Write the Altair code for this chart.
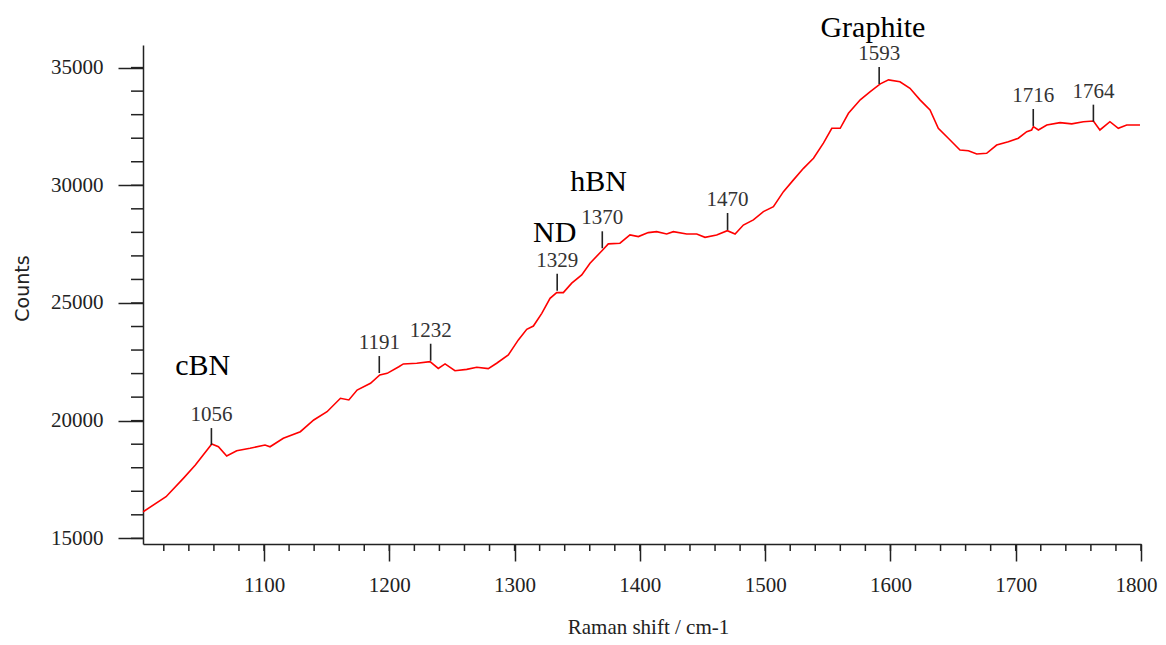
import altair as alt
import pandas as pd

# ---- spectrum ----
shift = [1003.5, 1021.8, 1035.6, 1045.2, 1058.3, 1063.6, 1070.2, 1078.2, 1088.8, 1100.8,
         1104.8, 1115.4, 1129.0, 1139.7, 1150.3, 1161.0, 1167.7, 1174.3, 1185.0, 1192.4,
         1198.3, 1207.6, 1211.2, 1221.9, 1232.5, 1239.1, 1244.5, 1252.4, 1261.8, 1269.8,
         1279.0, 1285.7, 1295.0, 1303.0, 1309.7, 1315.0, 1321.7, 1328.3, 1333.6, 1338.9,
         1345.6, 1353.6, 1360.2, 1370.3, 1374.8, 1384.1, 1392.1, 1398.8, 1406.7, 1413.4,
         1421.4, 1426.7, 1437.4, 1445.4, 1452.0, 1461.3, 1469.8, 1476.0, 1482.6, 1490.6,
         1498.6, 1506.6, 1514.6, 1522.6, 1530.6, 1538.6, 1546.5, 1553.2, 1559.9, 1566.5,
         1575.9, 1583.9, 1591.9, 1598.5, 1607.6, 1615.6, 1623.6, 1631.6, 1638.2, 1646.2,
         1655.5, 1662.2, 1668.9, 1676.8, 1684.8, 1694.1, 1702.1, 1708.8, 1712.7, 1714.1,
         1718.1, 1724.8, 1735.4, 1744.7, 1754.0, 1762.0, 1767.2, 1775.2, 1781.9, 1788.6,
         1799.2]
counts = [16130, 16768, 17550, 18115, 19007, 18893, 18498, 18723, 18825, 18965,
          18890, 19250, 19530, 20030, 20380, 20950, 20880, 21300, 21590, 21940,
          22010, 22290, 22410, 22440, 22510, 22220, 22410, 22120, 22180, 22270,
          22210, 22440, 22790, 23430, 23880, 24020, 24560, 25200, 25440, 25440,
          25840, 26190, 26690, 27250, 27510, 27540, 27890, 27820, 27990, 28030,
          27930, 28030, 27930, 27930, 27790, 27890, 28070, 27930, 28310, 28530,
          28880, 29090, 29730, 30230, 30720, 31150, 31790, 32420, 32420, 33060,
          33630, 33980, 34310, 34480, 34400, 34120, 33630, 33200, 32420, 32000,
          31500, 31470, 31330, 31360, 31710, 31850, 32000, 32280, 32350, 32490,
          32350, 32560, 32660, 32610, 32700, 32730, 32350, 32700, 32420, 32560,
          32560]

# ---- peak markers ----
peak_shift = [1058, 1192, 1233, 1334, 1370, 1470, 1591, 1714, 1762]
peak_counts = [18965, 22025, 22548, 25523, 27325, 28102, 34307, 32522, 32705]
peak_labels = ["1056", "1191", "1232", "1329", "1370", "1470", "1593", "1716", "1764"]

# ---- annotations ----
note_text = ["cBN", "ND", "hBN", "Graphite"]
note_shift = [1051, 1332, 1367, 1586]
note_counts = [21940, 27605, 29773, 36305]

# ---- axis ticks ----
x_major = [1100, 1200, 1300, 1400, 1500, 1600, 1700, 1800]
x_minor = list(range(1020, 1801, 20))
y_major = [15000, 20000, 25000, 30000, 35000]
y_minor = list(range(15000, 36000, 1000))

X_DOMAIN = [1003.4, 1800]
Y_DOMAIN = [14760, 35960]

SERIF = "Liberation Serif"
INK = "#222222"

xs = alt.Scale(domain=X_DOMAIN, nice=False, zero=False)
ys = alt.Scale(domain=Y_DOMAIN, nice=False, zero=False)

spec_df = pd.DataFrame({"shift": shift, "counts": counts})
peak_df = pd.DataFrame({"shift": peak_shift, "counts": peak_counts, "label": peak_labels})
note_df = pd.DataFrame({"shift": note_shift, "counts": note_counts, "text": note_text})
xminor_df = pd.DataFrame({"shift": x_minor})
yminor_df = pd.DataFrame({"counts": y_minor})

x_axis = alt.Axis(
    values=x_major, format="d", tickSize=17, tickWidth=1.5, tickColor=INK,
    domainColor=INK, domainWidth=1.5, grid=False,
    labelFont=SERIF, labelFontSize=21, labelColor=INK, labelPadding=13,
    labelFlush=True, labelFlushOffset=16, labelOverlap=False,
    title="Raman shift / cm-1", titleFont=SERIF, titleFontSize=21,
    titleFontWeight="normal", titleColor=INK,
    titleX=505, titleY=89, titleAlign="center", titleBaseline="alphabetic",
)
y_axis = alt.Axis(
    values=y_major, format="d", tickSize=25, tickWidth=1.5, tickColor=INK,
    domainColor=INK, domainWidth=1.5, grid=False,
    labelFont=SERIF, labelFontSize=21, labelColor=INK, labelPadding=15,
    labelFlush=False, labelOverlap=False,
    title="Counts", titleFont="DejaVu Sans", titleFontSize=19,
    titleFontWeight="normal", titleColor=INK,
    titleX=-121, titleY=243, titleAngle=270, titleAlign="center", titleBaseline="middle",
)

X = alt.X("shift:Q", scale=xs, axis=x_axis)
Y = alt.Y("counts:Q", scale=ys, axis=y_axis)

line = alt.Chart(spec_df).mark_line(color="#ff0000", strokeWidth=1.6).encode(x=X, y=Y)

peak_base = alt.Chart(peak_df).transform_calculate(top="datum.counts + 720")
peak_rules = peak_base.mark_rule(color=INK, strokeWidth=1.6).encode(
    x=X, y=Y, y2="top:Q",
)
peak_text = peak_base.mark_text(
    font=SERIF, fontSize=21, color="#333333", baseline="alphabetic", align="center", dy=-7
).encode(
    x=X,
    y=alt.Y("top:Q", scale=ys, axis=y_axis),
    text="label:N",
)

notes = alt.Chart(note_df).mark_text(
    font=SERIF, fontSize=30, color="#000000", baseline="alphabetic", align="center"
).encode(x=X, y=Y, text="text:N")

x_minor_ticks = alt.Chart(xminor_df).mark_rule(color=INK, strokeWidth=1.5).encode(
    x=X, y=alt.value(499), y2=alt.value(506),
)
y_minor_ticks = alt.Chart(yminor_df).mark_rule(color=INK, strokeWidth=1.5).encode(
    y=Y, x=alt.value(-12), x2=alt.value(0),
)

chart = alt.layer(
    line, x_minor_ticks, y_minor_ticks, peak_rules, peak_text, notes
).properties(
    width=998, height=499,
    autosize=alt.AutoSizeParams(type="none"),
    padding={"left": 135, "top": 37, "right": 17, "bottom": 93},
    background="white",
).configure_view(strokeWidth=0)

chart.save("out.html", embed_options={"renderer": "svg", "actions": False})
